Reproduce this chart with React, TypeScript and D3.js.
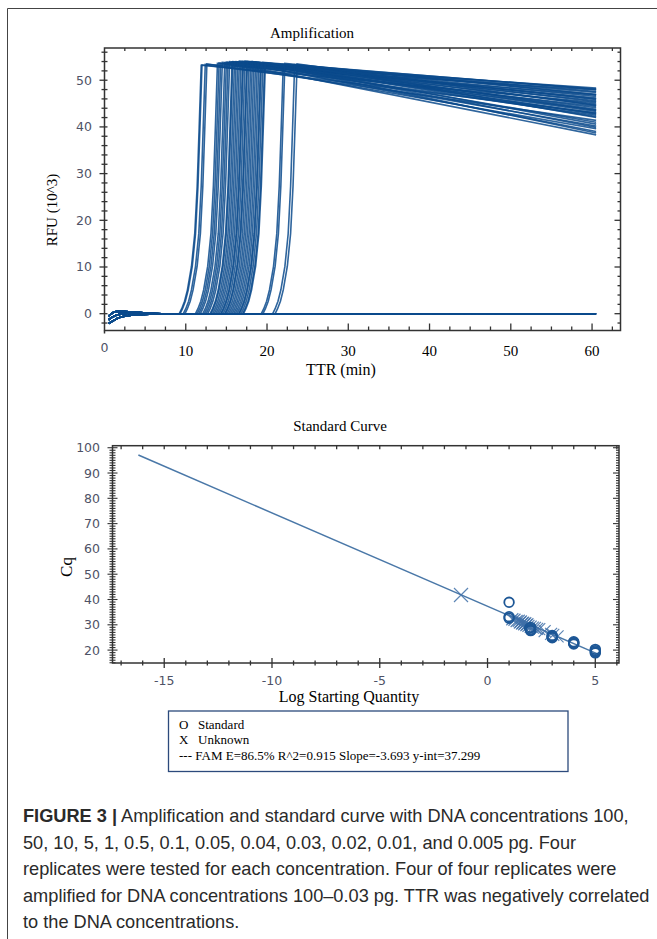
import * as d3 from "d3";

// ---- Amplification panel data ----
const ampXTicks = [0, 10, 20, 30, 40, 50, 60];
const ampYTicks = [0, 10, 20, 30, 40, 50];

// time (min) at which each amplified well crosses ~17 RFU (x10^3)
const ampTtr = [
  11.1, 11.2, 11.6, 11.8, 13.1, 13.3, 13.5, 13.7, 14.0, 14.2,
  14.4, 14.6, 14.9, 15.0, 15.2, 15.4, 15.6, 15.8, 16.0, 16.2,
  16.3, 16.5, 16.7, 16.8, 17.0, 17.2, 17.4, 17.6, 17.8, 18.0,
  18.2, 18.4, 18.5, 18.7, 18.9, 19.0, 21.2, 21.4, 22.6, 22.9,
];
const ampPeak = [
  53.2, 53.3, 53.4, 53.5, 53.6, 53.7, 53.6, 53.8, 53.7, 53.9,
  53.8, 54.0, 53.9, 54.0, 53.8, 54.0, 53.9, 54.1, 53.8, 54.0,
  53.9, 54.1, 53.8, 54.0, 53.9, 53.7, 54.0, 53.8, 53.9, 53.6,
  53.8, 53.7, 53.6, 53.8, 53.5, 53.7, 53.4, 53.6, 53.3, 53.5,
];
const ampEnd = [
  45.2, 43.0, 47.9, 41.4, 46.8, 39.6, 44.4, 48.3, 42.5, 46.2,
  38.3, 45.6, 43.6, 47.4, 40.2, 44.9, 42.9, 48.1, 39.0, 46.5,
  43.3, 47.0, 41.0, 45.9, 42.2, 44.1, 38.7, 47.6, 43.8, 46.0,
  40.6, 44.7, 42.7, 48.0, 39.9, 45.4, 43.5, 46.9, 42.0, 44.6,
];
// shape of the rise, relative to each well's TTR (traced from the earliest well)
const riseOffset = [-1.9, -1.6, -1.25, -0.9, -0.4, 0, 0.3, 0.55, 0.8];
const riseFrac = [0, 0.02, 0.05, 0.095, 0.19, 0.32, 0.51, 0.75, 1.0];

// early baseline drift, three typical shapes
const baseTimes = [0.5, 1.0, 1.5, 2.0, 3.0, 4.0, 5.5, 7.0, 8.5];
const baseLow = [-2.1, -1.6, -1.1, -0.7, -0.4, -0.2, -0.1, 0.0, -0.1];
const baseMid = [-1.3, -0.7, -0.3, -0.1, 0.1, 0.1, 0.0, 0.0, -0.1];
const baseHigh = [-0.5, 0.2, 0.5, 0.5, 0.4, 0.3, 0.1, 0.0, -0.1];
const flatWells = 12;
const runEnd = 60.5;

// ---- Standard curve panel data ----
const stdXTicks = [-15, -10, -5, 0, 5];
const stdYTicks = [20, 30, 40, 50, 60, 70, 80, 90, 100];
const standardLog = [5, 5, 5, 5, 4, 4, 4, 4, 3, 3, 3, 3, 2, 2, 1.95, 2, 1, 1, 1];
const standardCq = [18.9, 19.3, 19.8, 20.3, 22.4, 22.7, 23.0, 23.3, 24.9, 25.2, 25.5, 25.8, 27.7, 28.1, 28.6, 29.0, 32.6, 33.2, 38.9];
const unknownLog = [-1.23, 1.15, 1.25, 1.35, 1.45, 1.5, 1.55, 1.6, 1.65, 1.7, 1.75, 1.8, 1.85, 1.9, 2.0, 2.1, 2.2, 2.3, 2.4, 2.65, 2.95, 3.05, 3.25];
const unknownCq = [41.8, 32.2, 32.0, 31.5, 31.6, 30.9, 31.3, 30.5, 30.8, 30.2, 30.6, 29.9, 30.2, 29.6, 29.3, 28.9, 28.8, 28.4, 28.3, 27.5, 26.4, 26.0, 25.4];
const fitLog = [-16.2, 5.1];
const fitCq = [97.1, 18.5];

const legendLines = ["Standard", "Unknown"];
const legendFit = "--- FAM E=86.5% R^2=0.915 Slope=-3.693  y-int=37.299";

const captionLines = [
  " Amplification and standard curve with DNA concentrations 100,",
  "50, 10, 5, 1, 0.5, 0.1, 0.05, 0.04, 0.03, 0.02, 0.01, and 0.005 pg. Four",
  "replicates were tested for each concentration. Four of four replicates were",
  "amplified for DNA concentrations 100\u20130.03 pg. TTR was negatively correlated",
  "to the DNA concentrations.",
];

const serif = "'Liberation Serif', 'Times New Roman', serif";
const sans = "'DejaVu Sans', Verdana, sans-serif";
const tickInk = "#4e5266";
const axisInk = "#333";

type Pt = [number, number];

export default function App() {
  // amplification scales
  const x1 = d3.scaleLinear().domain([0, 63.5]).range([104.5, 620.5]);
  const y1 = d3.scaleLinear().domain([-3.6, 56.9]).range([330.5, 48]);
  const line1 = d3.line<Pt>().x((d) => x1(d[0])).y((d) => y1(d[1]));

  const bases = [baseLow, baseMid, baseHigh];
  const curves: Pt[][] = [];
  ampTtr.forEach((t, i) => {
    const b = bases[i % 3];
    const pts: Pt[] = baseTimes.map((bt, j) => [bt, b[j]] as Pt);
    riseOffset.forEach((o, j) => pts.push([t + o, riseFrac[j] * ampPeak[i]]));
    pts.push([runEnd, ampEnd[i]]);
    curves.push(pts);
  });
  d3.range(flatWells).forEach((i) => {
    const b = bases[i % 3];
    const pts: Pt[] = baseTimes.map((bt, j) => [bt, b[j]] as Pt);
    pts.push([20, -0.1], [runEnd, 0]);
    curves.push(pts);
  });

  // standard curve scales
  const x2 = d3.scaleLinear().domain([-17.4, 6.1]).range([112.5, 619]);
  const y2 = d3.scaleLinear().domain([14.9, 100.8]).range([663, 445.7]);

  const [l1, r1] = x1.range();
  const [b1, t1] = y1.range();
  const [l2, r2] = x2.range();
  const [b2, t2] = y2.range();

  return (
    <svg
      width={657}
      height={939}
      style={{ position: "absolute", left: 0, top: 0, background: "#fff" }}
    >
      <rect width={657} height={939} fill="#fff" />
      {/* outer frame */}
      <path d="M7.5,939 V8.5 H657" fill="none" stroke="#444" strokeWidth={1} />

      {/* ================= Amplification ================= */}
      <text x={312} y={38} textAnchor="middle" fontFamily={serif} fontSize={15}>
        Amplification
      </text>
      <g>
        {curves.map((c, i) => (
          <path key={i} d={line1(c) ?? ""} fill="none" stroke="#0b4a8c" strokeWidth={1.6} strokeOpacity={0.85} />
        ))}
      </g>
      <g stroke={axisInk} fill="none">
        <rect x={l1} y={t1} width={r1 - l1} height={b1 - t1} strokeWidth={1.5} />
        {d3.range(2.5, 63.5, 2.5).map((v) => {
          const major = v % 10 === 0;
          return (
            <g key={"bx" + v}>
              <line x1={x1(v)} x2={x1(v)} y1={b1} y2={b1 - (major ? 7 : 4)} strokeWidth={1.3} />
              <line x1={x1(v)} x2={x1(v)} y1={t1} y2={t1 + 3} strokeWidth={1.3} />
            </g>
          );
        })}
        {d3.range(-2, 57, 2).map((v) => {
          const major = v % 10 === 0;
          return (
            <g key={"by" + v}>
              <line x1={l1 - (major ? 5 : 3)} x2={l1 + 3} y1={y1(v)} y2={y1(v)} strokeWidth={1.3} />
              <line x1={r1} x2={r1 - (major ? 6 : 3)} y1={y1(v)} y2={y1(v)} strokeWidth={1.3} />
            </g>
          );
        })}
        <line x1={l1} x2={l1} y1={b1} y2={b1 + 3} strokeWidth={1.5} />
      </g>
      {ampYTicks.map((v) => (
        <text key={"ly" + v} x={92} y={y1(v) + 4.5} textAnchor="end" fontFamily={sans} fontSize={12.5} fill={tickInk}>
          {v}
        </text>
      ))}
      {ampXTicks.map((v) =>
        v === 0 ? (
          <text key={"lx" + v} x={x1(v)} y={352} textAnchor="middle" fontFamily={sans} fontSize={12.5} fill={tickInk}>
            {v}
          </text>
        ) : (
          <text key={"lx" + v} x={x1(v)} y={356} textAnchor="middle" fontFamily={serif} fontSize={15}>
            {v}
          </text>
        )
      )}
      <text x={341} y={375} textAnchor="middle" fontFamily={serif} fontSize={16}>
        TTR (min)
      </text>
      <text transform="translate(57,210) rotate(-90)" textAnchor="middle" fontFamily={serif} fontSize={15}>
        RFU (10^3)
      </text>

      {/* ================= Standard Curve ================= */}
      <text x={340} y={431} textAnchor="middle" fontFamily={serif} fontSize={15}>
        Standard Curve
      </text>
      <g stroke={axisInk} fill="none">
        <rect x={l2} y={t2} width={r2 - l2} height={b2 - t2} strokeWidth={1.5} />
        {d3.range(-17, 7, 1).map((v) => {
          const major = v % 5 === 0;
          return (
            <g key={"sx" + v}>
              <line x1={x2(v)} x2={x2(v)} y1={b2 - (major ? 5 : 2.5)} y2={b2 + (major ? 5 : 2.5)} strokeWidth={1.3} />
              <line x1={x2(v)} x2={x2(v)} y1={t2} y2={t2 + 3.5} strokeWidth={1.3} />
            </g>
          );
        })}
        {d3.range(15, 101, 1).map((v) => {
          const major = v % 10 === 0;
          return (
            <g key={"sy" + v}>
              <line x1={l2 - (major ? 5 : 3)} x2={l2 + (major ? 5 : 3)} y1={y2(v)} y2={y2(v)} strokeWidth={1.1} />
              <line x1={r2} x2={r2 - (major ? 6 : 3)} y1={y2(v)} y2={y2(v)} strokeWidth={1.1} />
            </g>
          );
        })}
      </g>
      <line
        x1={x2(fitLog[0])}
        y1={y2(fitCq[0])}
        x2={x2(fitLog[1])}
        y2={y2(fitCq[1])}
        stroke="#4a78a8"
        strokeWidth={1.5}
      />
      {unknownLog.map((v, i) => {
        const cx = x2(v);
        const cy = y2(unknownCq[i]);
        const s = i === 0 ? 7 : 6;
        return (
          <path
            key={"u" + i}
            d={`M${cx - s},${cy - s}L${cx + s},${cy + s}M${cx - s},${cy + s}L${cx + s},${cy - s}`}
            stroke="#3f70a8"
            strokeWidth={1.2}
            strokeOpacity={0.85}
            fill="none"
          />
        );
      })}
      {standardLog.map((v, i) => (
        <circle key={"s" + i} cx={x2(v)} cy={y2(standardCq[i])} r={4.8} fill="none" stroke="#1d5796" strokeWidth={1.8} />
      ))}
      {stdYTicks.map((v) => (
        <text key={"sly" + v} x={100} y={y2(v) + 4.5} textAnchor="end" fontFamily={sans} fontSize={12.5} fill={tickInk}>
          {v}
        </text>
      ))}
      {stdXTicks.map((v) => (
        <text key={"slx" + v} x={x2(v)} y={685} textAnchor="middle" fontFamily={sans} fontSize={12.5} fill={tickInk}>
          {v}
        </text>
      ))}
      <text x={349} y={702} textAnchor="middle" fontFamily={serif} fontSize={16}>
        Log Starting Quantity
      </text>
      <text transform="translate(72,567) rotate(-90)" textAnchor="middle" fontFamily={serif} fontSize={17}>
        Cq
      </text>

      {/* legend */}
      <rect x={168.5} y={711} width={399.5} height={60.5} fill="none" stroke="#2c4a7c" strokeWidth={1.3} />
      {["O", "X"].map((m, i) => (
        <g key={"lg" + i} fontFamily={serif} fontSize={13}>
          <text x={179} y={728.5 + i * 15.5}>{m}</text>
          <text x={198} y={728.5 + i * 15.5}>{legendLines[i]}</text>
        </g>
      ))}
      <text x={179} y={759.5} fontFamily={serif} fontSize={13}>
        {legendFit}
      </text>

      {/* caption */}
      <g fontFamily="'Liberation Sans', Arial, sans-serif" fontSize={18.2} fill="#2a2a2a">
        {captionLines.map((s, i) => (
          <text key={"c" + i} x={23} y={822 + i * 26.5}>
            {i === 0 && <tspan fontWeight="bold">FIGURE 3 |</tspan>}
            {s}
          </text>
        ))}
      </g>
    </svg>
  );
}
